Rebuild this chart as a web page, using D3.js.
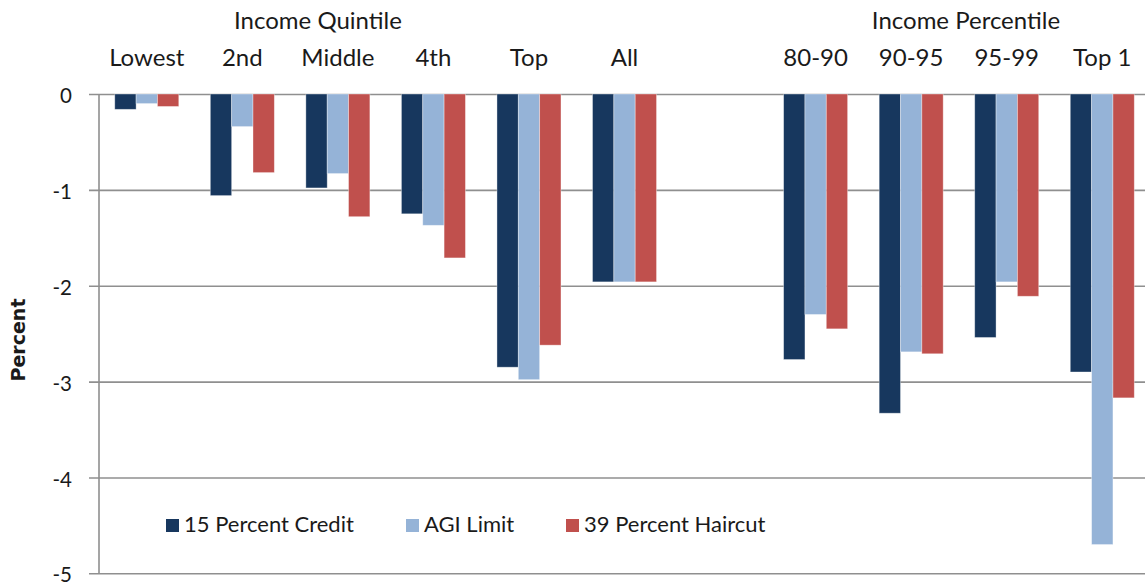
<!DOCTYPE html>
<html>
<head>
<meta charset="utf-8">
<script src="https://cdn.jsdelivr.net/npm/d3@7"></script>
<style>
  html, body { margin: 0; padding: 0; background: #fff; }
  svg { display: block; }
  text { font-family: Lato, "Open Sans", sans-serif; fill: #1a1a1a; }
</style>
</head>
<body>
<svg id="chart" width="1145" height="582"></svg>
<script>
// ---- Data ----
const quintileCategories = ["Lowest", "2nd", "Middle", "4th", "Top", "All"];
const percentileCategories = ["80-90", "90-95", "95-99", "Top 1"];
const categories = quintileCategories.concat(percentileCategories);
const seriesNames = ["15 Percent Credit", "AGI Limit", "39 Percent Haircut"];
const credit15 = [-0.16, -1.06, -0.98, -1.25, -2.85, -1.96, -2.77, -3.33, -2.54, -2.90];
const agiLimit = [-0.10, -0.34, -0.83, -1.37, -2.98, -1.96, -2.30, -2.69, -1.96, -4.70];
const haircut39 = [-0.13, -0.82, -1.28, -1.71, -2.62, -1.96, -2.45, -2.71, -2.11, -3.17];
const yTicks = [0, -1, -2, -3, -4, -5];
const yTickLabels = ["0", "-1", "-2", "-3", "-4", "-5"];
const groupTitles = ["Income Quintile", "Income Percentile"];
const colors = ["#17375E", "#95B3D7", "#C0504D"];

// ---- Layout ----
const W = 1145, H = 582;
const plotLeft = 99, zeroY = 94, bottomY = 573.3;
const svg = d3.select("#chart");

const slotKeys = quintileCategories.concat(["__gap__"], percentileCategories);
const x = d3.scaleBand().domain(slotKeys)
  .range([plotLeft, plotLeft + 11 * 95.55])
  .paddingInner(0.33).paddingOuter(0.165);
const xs = d3.scaleBand().domain(seriesNames).range([0, x.bandwidth()]);
const y = d3.scaleLinear().domain([-5, 0]).range([bottomY, zeroY]);

// gridlines + ticks
const yAxis = d3.axisLeft(y).tickValues(yTicks).tickFormat((d, i) => yTickLabels[i])
  .tickSize(-(W - plotLeft)).tickSizeOuter(0).tickPadding(27);
const gAxis = svg.append("g").attr("transform", `translate(${plotLeft},0)`).call(yAxis);
gAxis.select(".domain").remove();
gAxis.selectAll(".tick line").attr("stroke", "#8f8f8f").attr("stroke-width", 1.6).attr("x1", -10);
gAxis.selectAll(".tick text")
  .attr("font-family", "Lato, sans-serif").attr("font-size", 20.5).attr("fill", "#1a1a1a")
  .attr("dy", "0.42em").attr("dx", 0);
// y axis line
svg.append("line").attr("x1", plotLeft).attr("x2", plotLeft)
  .attr("y1", zeroY).attr("y2", bottomY).attr("stroke", "#8f8f8f").attr("stroke-width", 1.6);

// bars
const allSeries = [credit15, agiLimit, haircut39];
allSeries.forEach((vals, si) => {
  svg.append("g").selectAll("rect").data(vals).join("rect")
    .attr("x", (d, i) => x(categories[i]) + xs(seriesNames[si]))
    .attr("width", xs.bandwidth())
    .attr("y", d => y(Math.max(0, d)))
    .attr("height", d => Math.abs(y(d) - y(0)))
    .attr("fill", colors[si])
    .attr("stroke", "rgba(255,255,255,0.45)").attr("stroke-width", 0.8);
});

// category labels
svg.append("g").selectAll("text").data(categories).join("text")
  .attr("x", d => x(d) + x.bandwidth() / 2)
  .attr("y", 66)
  .attr("text-anchor", "middle")
  .attr("font-size", 24)
  .text(d => d);

// group titles
svg.append("text").attr("x", 318).attr("y", 29).attr("text-anchor", "middle")
  .attr("font-size", 24).text(groupTitles[0]);
svg.append("text").attr("x", 966).attr("y", 29).attr("text-anchor", "middle")
  .attr("font-size", 24).text(groupTitles[1]);

// y title
svg.append("text")
  .attr("transform", "translate(25,340) rotate(-90)")
  .attr("text-anchor", "middle")
  .attr("font-weight", "bold").attr("font-size", 19)
  .style("font-family", "'DejaVu Sans', sans-serif")
  .text("Percent");

// legend
const legendX = [166, 406, 566];
const lg = svg.append("g");
seriesNames.forEach((name, i) => {
  lg.append("rect").attr("x", legendX[i]).attr("y", 519).attr("width", 13).attr("height", 13)
    .attr("fill", colors[i]);
  lg.append("text").attr("x", legendX[i] + 18).attr("y", 532)
    .attr("font-size", 22).text(name);
});
</script>
</body>
</html>
